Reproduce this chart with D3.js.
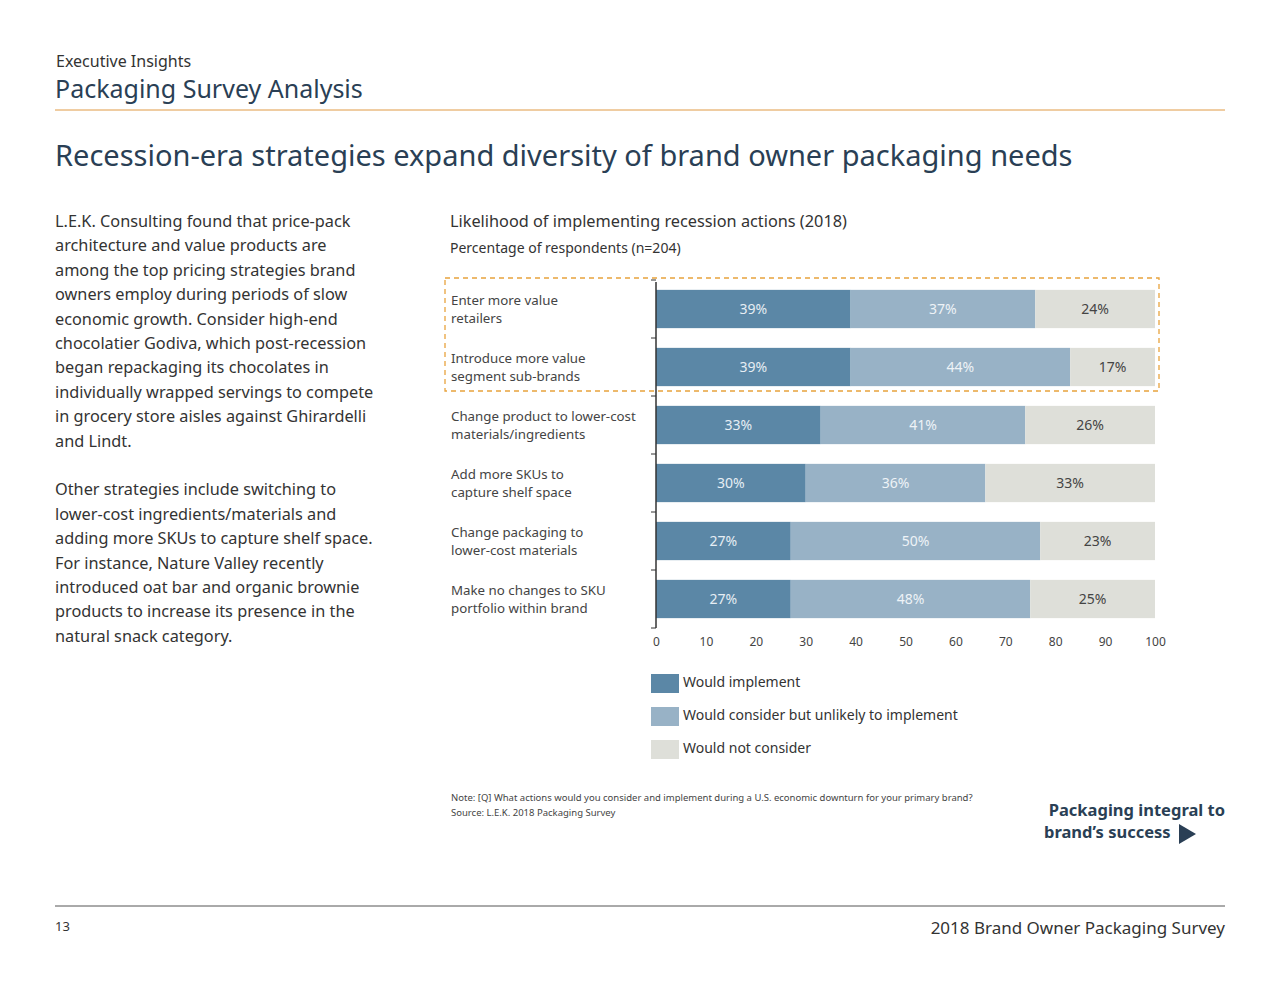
<!DOCTYPE html>
<html><head><meta charset="utf-8">
<script src="https://cdn.jsdelivr.net/npm/d3@7"></script>
<style>body{margin:0;background:#fff}svg{font-family:"Noto Sans","Open Sans",sans-serif}</style>
</head><body>
<svg id="c" width="1280" height="990"></svg>
<script>
const categories = [
  ["Enter more value","retailers"],
  ["Introduce more value","segment sub-brands"],
  ["Change product to lower-cost","materials/ingredients"],
  ["Add more SKUs to","capture shelf space"],
  ["Change packaging to","lower-cost materials"],
  ["Make no changes to SKU","portfolio within brand"]
];
const wouldImplement = [39,39,33,30,27,27];
const wouldConsider = [37,44,41,36,50,48];
const wouldNot = [24,17,26,33,23,25];
const seriesNames = ["Would implement","Would consider but unlikely to implement","Would not consider"];
const xTicks = [0,10,20,30,40,50,60,70,80,90,100];
const bodyText = [
 "L.E.K. Consulting found that price-pack","architecture and value products are","among the top pricing strategies brand","owners employ during periods of slow","economic growth. Consider high-end","chocolatier Godiva, which post-recession","began repackaging its chocolates in","individually wrapped servings to compete","in grocery store aisles against Ghirardelli","and Lindt.","",
 "Other strategies include switching to","lower-cost ingredients/materials and","adding more SKUs to capture shelf space.","For instance, Nature Valley recently","introduced oat bar and organic brownie","products to increase its presence in the","natural snack category."];

const colors = ["#5b87a6","#98b2c6","#dedfd9"];
const labelColors = ["#e6eef4","#eef3f7","#444"];
const svg = d3.select("#c");
const navy = "#2a3f55";

svg.append("text").attr("x",56).attr("y",67).attr("font-size",16).attr("fill","#333").text("Executive Insights");
svg.append("text").attr("x",55).attr("y",98).attr("font-size",25).attr("fill",navy).text("Packaging Survey Analysis");
svg.append("line").attr("x1",55).attr("x2",1225).attr("y1",110).attr("y2",110).attr("stroke","#e09a45").attr("stroke-width",1);
svg.append("text").attr("x",55).attr("y",166).attr("font-size",29).attr("fill",navy).text("Recession-era strategies expand diversity of brand owner packaging needs");

bodyText.forEach((t,i)=>svg.append("text").attr("x",55).attr("y",227+i*24.4).attr("font-size",16.3).attr("fill","#333").text(t));

svg.append("text").attr("x",450).attr("y",227).attr("font-size",16.3).attr("fill","#333").text("Likelihood of implementing recession actions (2018)");
svg.append("text").attr("x",450).attr("y",253).attr("font-size",14).attr("fill","#333").text("Percentage of respondents (n=204)");

const x = d3.scaleLinear().domain([0,100]).range([656,1155]);
const y = d3.scaleBand().domain(d3.range(categories.length)).range([280,628]).paddingInner(0.34).paddingOuter(0.17);

const rows = categories.map((c,i)=>({i, a:wouldImplement[i], b:wouldConsider[i], c:wouldNot[i]}));
const stack = d3.stack().keys(["a","b","c"])(rows);
stack.forEach((s,k)=>{
  const g = svg.append("g");
  s.forEach(d=>{
    const x1 = k===2 ? 100 : d[1];
    g.append("rect").attr("x",x(d[0])).attr("width",x(x1)-x(d[0])).attr("y",y(d.data.i)).attr("height",y.bandwidth()).attr("fill",colors[k]);
    g.append("text").attr("x",(x(d[0])+x(x1))/2).attr("y",y(d.data.i)+y.bandwidth()/2+5).attr("text-anchor","middle")
     .attr("font-size",14).attr("fill",labelColors[k]).text((d[1]-d[0])+"%");
  });
});

svg.append("line").attr("x1",656).attr("x2",656).attr("y1",282).attr("y2",628).attr("stroke","#333").attr("stroke-width",1.5);
const step = (628-280)/categories.length;
d3.range(categories.length+1).forEach(i=>{
  svg.append("line").attr("x1",651).attr("x2",656).attr("y1",280+i*step).attr("y2",280+i*step).attr("stroke","#333");
});
categories.forEach((c,i)=>{
  const cy = y(i)+y.bandwidth()/2;
  c.forEach((l,j)=>svg.append("text").attr("x",451).attr("y",cy-4+j*18).attr("font-size",13.3).attr("fill","#444").text(l));
});
const xa = svg.append("g").attr("transform","translate(0,628)").call(d3.axisBottom(x).tickValues(xTicks).tickSize(0).tickPadding(9));
xa.select(".domain").remove();
xa.selectAll("text").attr("font-size",12).attr("fill","#444").attr("font-family","'Noto Sans',sans-serif");

svg.append("rect").attr("x",445).attr("y",278).attr("width",714).attr("height",113).attr("fill","none")
  .attr("stroke","#e8a33d").attr("stroke-width",1.3).attr("stroke-dasharray","5,4");

seriesNames.forEach((n,i)=>{
  svg.append("rect").attr("x",651).attr("y",674+i*33).attr("width",28).attr("height",19).attr("fill",colors[i]);
  svg.append("text").attr("x",683).attr("y",687+i*33).attr("font-size",14).attr("fill","#333").text(n);
});

svg.append("text").attr("x",451).attr("y",801).attr("font-size",9.5).attr("fill","#444").text("Note: [Q] What actions would you consider and implement during a U.S. economic downturn for your primary brand?");
svg.append("text").attr("x",451).attr("y",816).attr("font-size",9.5).attr("fill","#444").text("Source: L.E.K. 2018 Packaging Survey");

svg.append("text").attr("x",1225).attr("y",816).attr("text-anchor","end").attr("font-size",16.5).attr("font-weight","bold").attr("fill",navy).text("Packaging integral to");
svg.append("text").attr("x",1044).attr("y",838).attr("font-size",16.5).attr("font-weight","bold").attr("fill",navy).text("brand’s success");
svg.append("path").attr("d","M1179,824 L1196,834 L1179,844 Z").attr("fill",navy);

svg.append("line").attr("x1",55).attr("x2",1225).attr("y1",906).attr("y2",906).attr("stroke","#555").attr("stroke-width",1);
svg.append("text").attr("x",55).attr("y",931).attr("font-size",13).attr("fill","#333").text("13");
svg.append("text").attr("x",1225).attr("y",934).attr("text-anchor","end").attr("font-size",17).attr("fill","#333").text("2018 Brand Owner Packaging Survey");
</script></body></html>
